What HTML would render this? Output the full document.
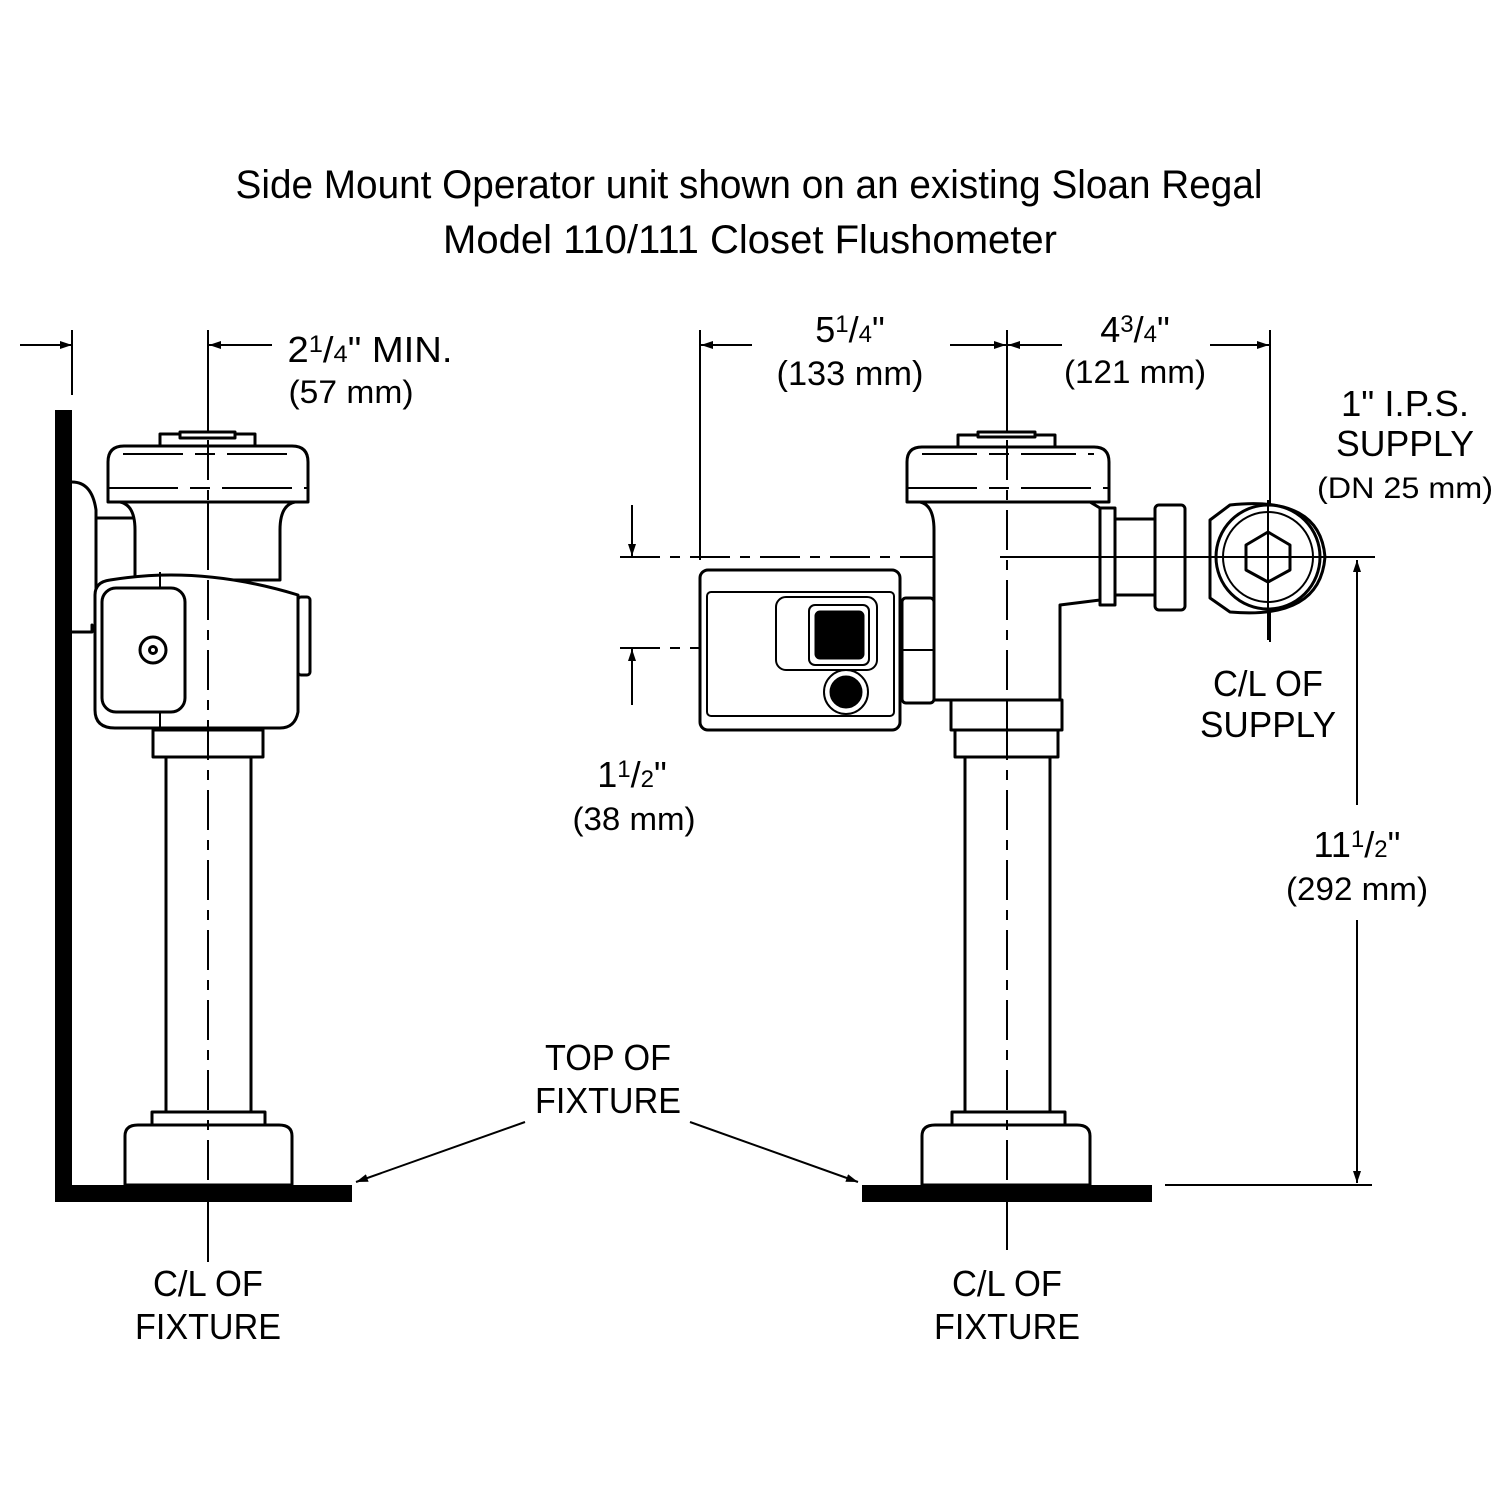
<!DOCTYPE html>
<html><head><meta charset="utf-8"><style>html,body{margin:0;padding:0;background:#fff}svg{display:block}</style></head><body>
<svg width="1500" height="1500" viewBox="0 0 1500 1500" xmlns="http://www.w3.org/2000/svg" font-family="Liberation Sans, sans-serif" fill="none" stroke="#000">
<defs><marker id="a" markerWidth="12" markerHeight="8" refX="12" refY="4" orient="auto" markerUnits="userSpaceOnUse"><path d="M0,0 L12,4 L0,8 z" fill="#000" stroke="none"/></marker></defs>
<g fill="#000" stroke="none" font-size="40" text-anchor="middle">
<text x="749" y="198" textLength="1027" lengthAdjust="spacingAndGlyphs">Side Mount Operator unit shown on an existing Sloan Regal</text>
<text x="750" y="253" textLength="614" lengthAdjust="spacingAndGlyphs">Model 110/111 Closet Flushometer</text>
<g font-size="36">
<text x="370" y="362" textLength="165" lengthAdjust="spacingAndGlyphs">2<tspan font-size="24" dy="-10">1</tspan><tspan dy="10">/</tspan><tspan font-size="24">4</tspan>" MIN.</text>
<text x="351" y="403" font-size="32" textLength="125" lengthAdjust="spacingAndGlyphs">(57 mm)</text>
<text x="850" y="342">5<tspan font-size="24" dy="-10">1</tspan><tspan dy="10">/</tspan><tspan font-size="24">4</tspan>"</text>
<text x="850" y="385" font-size="34" textLength="147" lengthAdjust="spacingAndGlyphs">(133 mm)</text>
<text x="1135" y="342">4<tspan font-size="24" dy="-10">3</tspan><tspan dy="10">/</tspan><tspan font-size="24">4</tspan>"</text>
<text x="1135" y="383" font-size="32" textLength="142" lengthAdjust="spacingAndGlyphs">(121 mm)</text>
<text x="1405" y="416" textLength="128" lengthAdjust="spacingAndGlyphs">1" I.P.S.</text>
<text x="1405" y="456" textLength="138" lengthAdjust="spacingAndGlyphs">SUPPLY</text>
<text x="1405" y="498" font-size="30" textLength="176" lengthAdjust="spacingAndGlyphs">(DN 25 mm)</text>
<text x="632" y="787">1<tspan font-size="24" dy="-10">1</tspan><tspan dy="10">/</tspan><tspan font-size="24">2</tspan>"</text>
<text x="634" y="830" font-size="32" textLength="123" lengthAdjust="spacingAndGlyphs">(38 mm)</text>
<text x="1268" y="696" textLength="110" lengthAdjust="spacingAndGlyphs">C/L OF</text>
<text x="1268" y="737" textLength="136" lengthAdjust="spacingAndGlyphs">SUPPLY</text>
<text x="1357" y="857">11<tspan font-size="24" dy="-10">1</tspan><tspan dy="10">/</tspan><tspan font-size="24">2</tspan>"</text>
<text x="1357" y="900" font-size="32" textLength="142" lengthAdjust="spacingAndGlyphs">(292 mm)</text>
<text x="608" y="1070" textLength="126" lengthAdjust="spacingAndGlyphs">TOP OF</text>
<text x="608" y="1113" textLength="146" lengthAdjust="spacingAndGlyphs">FIXTURE</text>
<text x="208" y="1296" textLength="110" lengthAdjust="spacingAndGlyphs">C/L OF</text>
<text x="208" y="1339" textLength="146" lengthAdjust="spacingAndGlyphs">FIXTURE</text>
<text x="1007" y="1296" textLength="110" lengthAdjust="spacingAndGlyphs">C/L OF</text>
<text x="1007" y="1339" textLength="146" lengthAdjust="spacingAndGlyphs">FIXTURE</text>
</g>
<rect x="55" y="410" width="17" height="790"/>
<rect x="55" y="1185" width="297" height="17"/>
<rect x="862" y="1185" width="290" height="17"/>
</g>
<g stroke-width="2">
<!-- dimension lines -->
<line x1="72" y1="330" x2="72" y2="395"/>
<line x1="208" y1="330" x2="208" y2="1262"/>
<line x1="20" y1="345" x2="72" y2="345" marker-end="url(#a)"/>
<line x1="272" y1="345" x2="209" y2="345" marker-end="url(#a)"/>
<line x1="700" y1="330" x2="700" y2="560"/>
<line x1="1007" y1="330" x2="1007" y2="1250"/>
<line x1="1270" y1="330" x2="1270" y2="642"/>
<line x1="752" y1="345" x2="701" y2="345" marker-end="url(#a)"/>
<line x1="950" y1="345" x2="1006" y2="345" marker-end="url(#a)"/>
<line x1="1062" y1="345" x2="1008" y2="345" marker-end="url(#a)"/>
<line x1="1210" y1="345" x2="1269" y2="345" marker-end="url(#a)"/>
<line x1="620" y1="557" x2="1375" y2="557" stroke-dasharray="40,10,10,10"/>
<line x1="620" y1="648" x2="960" y2="648" stroke-dasharray="40,10,10,10"/>
<line x1="632" y1="505" x2="632" y2="556" marker-end="url(#a)"/>
<line x1="632" y1="705" x2="632" y2="649" marker-end="url(#a)"/>
<line x1="1357" y1="805" x2="1357" y2="560" marker-end="url(#a)"/>
<line x1="1357" y1="920" x2="1357" y2="1183" marker-end="url(#a)"/>
<line x1="1165" y1="1185" x2="1372" y2="1185"/>
<line x1="525" y1="1122" x2="356" y2="1182" marker-end="url(#a)"/>
<line x1="690" y1="1122" x2="858" y2="1182" marker-end="url(#a)"/>
</g>
<g stroke-width="3" fill="#fff" stroke-linejoin="round">
<!-- LEFT UNIT -->
<path d="M72,482 Q92,482 96,510 L96,630 Q92,630 92,625 L92,632 Q88,632 72,632" fill="#fff"/>
<rect x="96" y="518" width="40" height="110" fill="#fff"/>
<rect x="160" y="434" width="95" height="14"/>
<rect x="180" y="432" width="55" height="6"/>
<path d="M108,502 L108,462 Q108,446 124,446 L292,446 Q308,446 308,462 L308,502 Z"/>
<line x1="123" y1="454" x2="295" y2="454" stroke-width="2" stroke-dasharray="60,12,20,12"/>
<line x1="108" y1="488" x2="308" y2="488" stroke-width="2" stroke-dasharray="70,12,20,12"/>
<path d="M120,502 Q135,505 135,530 L135,580 L280,580 L280,530 Q280,505 295,502 Z"/>
<line x1="208" y1="502" x2="208" y2="570" stroke-width="2" stroke-dasharray="30,12"/>
<rect x="298" y="597" width="12" height="78" rx="3"/>
<path d="M95,595 Q95,582 110,580 Q200,565 298,595 L298,712 Q295,728 280,728 L115,728 Q95,728 95,710 Z"/>
<rect x="102" y="588" width="83" height="124" rx="14"/>
<line x1="160" y1="572" x2="160" y2="588" stroke-width="2"/>
<line x1="160" y1="712" x2="160" y2="728" stroke-width="2"/>
<circle cx="153" cy="650" r="13"/>
<circle cx="153" cy="650" r="3.5"/>
<rect x="153" y="730" width="110" height="27"/>
<rect x="166" y="757" width="85" height="358"/>
<rect x="152" y="1112" width="113" height="14"/>
<path d="M125,1185 L125,1136 Q125,1125 138,1125 L279,1125 Q292,1125 292,1136 L292,1185 Z"/>
<line x1="208" y1="440" x2="208" y2="1185" stroke-width="2" stroke-dasharray="40,10,10,10"/>
<!-- RIGHT UNIT -->
<rect x="958" y="435" width="97" height="13"/>
<rect x="978" y="432" width="57" height="5"/>
<path d="M907,502 L907,462 Q907,447 922,447 L1094,447 Q1109,447 1109,462 L1109,502 Z"/>
<line x1="922" y1="454" x2="1094" y2="454" stroke-width="2" stroke-dasharray="55,12,20,12"/>
<line x1="907" y1="488" x2="1109" y2="488" stroke-width="2" stroke-dasharray="70,12,20,12"/>
<path d="M920,502 Q934,505 934,530 L934,700 L1060,700 L1060,605 L1100,600 L1100,508 L1090,502 Z"/>
<rect x="1100" y="508" width="15" height="97"/>
<rect x="1115" y="519" width="40" height="76"/>
<rect x="1155" y="505" width="30" height="105" rx="4"/>
<line x1="1155" y1="557" x2="1185" y2="557" stroke-width="2"/>
<path d="M1210,520 L1230,505 Q1320,495 1325,557 Q1320,620 1230,612 L1210,598 Z"/>
<circle cx="1268" cy="557" r="52"/>
<circle cx="1268" cy="557" r="45" stroke-width="2"/>
<polygon points="1268,532 1290,545 1290,570 1268,582 1246,570 1246,545"/>
<rect x="902" y="598" width="32" height="105" rx="4"/>
<line x1="902" y1="650" x2="934" y2="650" stroke-width="2"/>
<rect x="700" y="570" width="200" height="160" rx="8"/>
<rect x="707" y="592" width="187" height="124" rx="4" stroke-width="2"/>
<rect x="776" y="597" width="101" height="73" rx="10" stroke-width="2"/>
<rect x="809" y="605" width="60" height="60" rx="6" stroke-width="2"/>
<rect x="816" y="612" width="47" height="46" rx="4" fill="#000"/>
<circle cx="846" cy="692" r="22" stroke-width="2"/>
<circle cx="846" cy="692" r="15" fill="#000"/>
<rect x="951" y="700" width="111" height="30"/>
<line x1="1007" y1="700" x2="1007" y2="730" stroke-width="2"/>
<rect x="955" y="730" width="103" height="27"/>
<rect x="965" y="757" width="85" height="358"/>
<rect x="952" y="1112" width="113" height="14"/>
<path d="M922,1185 L922,1136 Q922,1125 935,1125 L1077,1125 Q1090,1125 1090,1136 L1090,1185 Z"/>
<line x1="1007" y1="440" x2="1007" y2="1185" stroke-width="2" stroke-dasharray="40,10,10,10"/>
<line x1="1268" y1="500" x2="1268" y2="640" stroke-width="2"/>
<line x1="1000" y1="557" x2="1375" y2="557" stroke-width="2" fill="none"/>
</g>
</svg>
</body></html>
